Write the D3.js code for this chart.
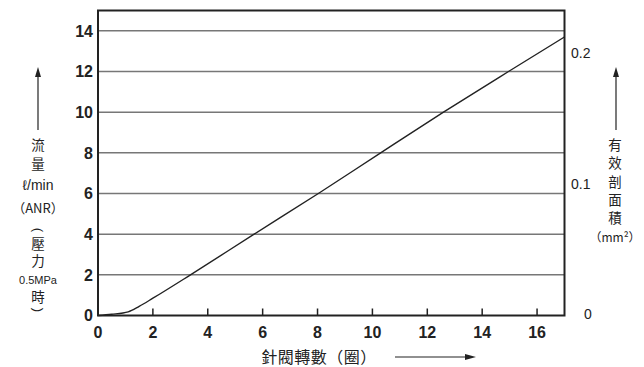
<!DOCTYPE html>
<html><head><meta charset="utf-8">
<script src="https://cdn.jsdelivr.net/npm/d3@7"></script>
<style>
body{margin:0;background:#fff;}
text{font-family:"Liberation Sans",Arial,sans-serif;fill:#222;}
.cjk{font-family:"Noto Sans CJK TC","Noto Sans CJK SC",sans-serif;}
</style></head><body>
<svg id="c" width="644" height="367"></svg>
<script>
const turns = [0, 0.5, 1.1, 1.5, 2, 3.37, 5.69, 8.03, 10.3, 12.59, 14.96, 17];
const flow  = [0, 0.06, 0.18, 0.45, 0.85, 2, 4, 6, 8, 10, 12, 13.7];
const xTicks = [0, 2, 4, 6, 8, 10, 12, 14, 16];
const yTicks = [0, 2, 4, 6, 8, 10, 12, 14];
const areaTicks = ["0", "0.1", "0.2"];
const areaTickVals = [0, 0.1, 0.2];
const leftLabel = ["流", "量", "ℓ/min", "（ANR）", "(", "壓", "力", "0.5MPa", "時", ")"];
const rightLabel = ["有", "效", "剖", "面", "積", "（mm²）"];
const xTitle = "針閥轉數（圈）";

const svg = d3.select("#c");
const L = 98, R = 564.5, T = 10.5, B = 315.5;
const x = d3.scaleLinear().domain([0, 17]).range([L, R]);
const y = d3.scaleLinear().domain([0, 15]).range([B, T]);
const y2 = d3.scaleLinear().domain([0, 0.2]).range([314, 53]);

// gridlines
svg.append("g").selectAll("line").data(yTicks.filter(d => d > 0)).join("line")
  .attr("x1", L).attr("x2", R).attr("y1", d => y(d)).attr("y2", d => y(d))
  .attr("stroke", "#777").attr("stroke-width", 1.5);

// x ticks inside
svg.append("g").selectAll("line").data(xTicks.filter(d => d > 0)).join("line")
  .attr("x1", d => x(d)).attr("x2", d => x(d)).attr("y1", B).attr("y2", B - 7)
  .attr("stroke", "#222").attr("stroke-width", 1.5);

// frame
svg.append("rect").attr("x", L).attr("y", T).attr("width", R - L).attr("height", B - T)
  .attr("fill", "none").attr("stroke", "#222").attr("stroke-width", 2);

// curve
const pts = turns.map((t, i) => [t, flow[i]]);
svg.append("path").datum(pts)
  .attr("d", d3.line().x(d => x(d[0])).y(d => y(d[1])).curve(d3.curveMonotoneX))
  .attr("fill", "none").attr("stroke", "#222").attr("stroke-width", 1.4);

// y tick labels
svg.append("g").selectAll("text").data(yTicks).join("text")
  .attr("x", 93).attr("y", d => y(d)).attr("dy", "0.36em")
  .attr("text-anchor", "end").attr("font-size", 16).attr("font-weight", "bold")
  .text(d => d);

// x tick labels
svg.append("g").selectAll("text").data(xTicks).join("text")
  .attr("x", d => x(d)).attr("y", 332).attr("dy", "0.36em")
  .attr("text-anchor", "middle").attr("font-size", 16).attr("font-weight", "bold")
  .text(d => d);

// right tick labels
svg.append("g").selectAll("text").data(areaTickVals).join("text")
  .attr("x", (d, i) => i === 0 ? 588 : 571).attr("y", d => y2(d)).attr("dy", "0.36em")
  .attr("text-anchor", (d, i) => i === 0 ? "middle" : "start").attr("font-size", 14)
  .text((d, i) => areaTicks[i]);

// arrows
function arrowUp(cx, y1, y0) {
  svg.append("line").attr("x1", cx).attr("x2", cx).attr("y1", y0).attr("y2", y1 + 8)
    .attr("stroke", "#222").attr("stroke-width", 1.2);
  svg.append("path").attr("d", `M${cx},${y1} L${cx - 3},${y1 + 10} L${cx + 3},${y1 + 10} Z`).attr("fill", "#222");
}
arrowUp(38, 67, 130);
arrowUp(616, 67, 130);
// right arrow
svg.append("line").attr("x1", 395).attr("x2", 468).attr("y1", 357).attr("y2", 357)
  .attr("stroke", "#222").attr("stroke-width", 1.2);
svg.append("path").attr("d", "M476,357 L465,354 L465,360 Z").attr("fill", "#222");

// left label
const leftY = [145, 164, 185, 208, 230, 244, 261, 280, 297, 310];
const cx = 38;
const isParen = i => i === 4 || i === 9;
svg.append("g").selectAll("text").data(leftLabel).join("text")
  .attr("class", "cjk")
  .attr("transform", (d, i) => isParen(i)
      ? `translate(${cx},${leftY[i]}) rotate(90)` : `translate(${cx},${leftY[i]})`)
  .attr("dy", (d, i) => isParen(i) ? "0.27em" : "0.36em")
  .attr("text-anchor", "middle")
  .attr("font-size", (d, i) => (i === 2 ? 14 : i === 3 ? 13 : i === 7 ? 11 : isParen(i) ? 13 : 13.5))
  .style("font-family", (d, i) => (i === 2 || i === 7 || isParen(i)) ? "Liberation Sans, sans-serif" : null)
  .text(d => d);

// right label
const rightY = [145, 163, 182, 200, 218, 238];
svg.append("g").selectAll("text").data(rightLabel).join("text")
  .attr("class", "cjk").attr("x", 615).attr("y", (d, i) => rightY[i]).attr("dy", "0.36em")
  .attr("text-anchor", "middle")
  .attr("font-size", (d, i) => i === 5 ? 12 : 13.5)
  .text(d => d);

// x title
svg.append("text").attr("class", "cjk").attr("x", 319).attr("y", 357).attr("dy", "0.36em")
  .attr("text-anchor", "middle").attr("font-size", 16).attr("letter-spacing", 0.5)
  .text(xTitle);
</script>
</body></html>
